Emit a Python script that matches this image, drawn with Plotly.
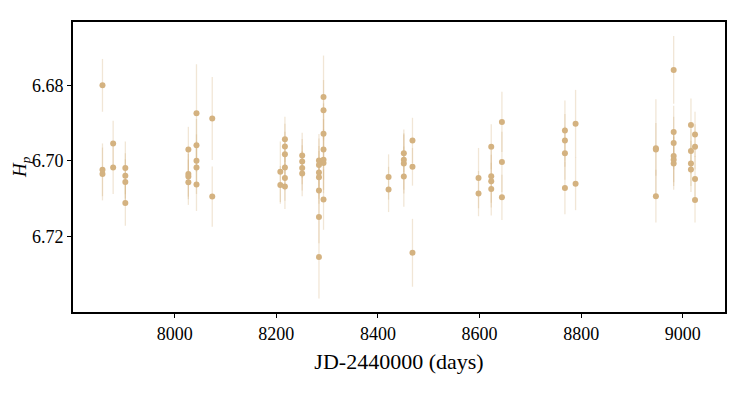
import plotly.graph_objects as go

# Hipparcos-style photometry: epoch (JD-2440000), Hp magnitude, error
days = [
    7858, 7858, 7858,
    7879, 7879,
    7903, 7903, 7903, 7903,
    8027, 8027, 8027, 8027,
    8043, 8043, 8043, 8043, 8043,
    8074, 8074,
    8208, 8208,
    8217, 8217, 8217, 8217, 8217, 8217,
    8251, 8251, 8251, 8251,
    8284, 8284, 8284, 8284, 8284, 8284, 8284,
    8293, 8293, 8293, 8293, 8293, 8293, 8293,
    8421, 8421,
    8451, 8451, 8451, 8451,
    8468, 8468, 8468,
    8598, 8598,
    8623, 8623, 8623, 8623,
    8644, 8644, 8644,
    8768, 8768, 8768, 8768,
    8789, 8789,
    8947, 8947, 8947,
    8982, 8982, 8982, 8982, 8982, 8982,
    9016, 9016, 9016, 9016,
    9024, 9024, 9024, 9024,
]
hp = [
    6.6800, 6.7024, 6.7035,
    6.6954, 6.7018,
    6.7019, 6.7040, 6.7056, 6.7112,
    6.6970, 6.7035, 6.7042, 6.7057,
    6.6874, 6.6959, 6.7000, 6.7018, 6.7063,
    6.6888, 6.7095,
    6.7029, 6.7064,
    6.6943, 6.6962, 6.6983, 6.7018, 6.7046, 6.7068,
    6.6986, 6.7002, 6.7019, 6.7034,
    6.6999, 6.7011, 6.7031, 6.7044, 6.7079, 6.7149, 6.7255,
    6.6831, 6.6866, 6.6928, 6.6970, 6.6997, 6.7006, 6.7103,
    6.7043, 6.7076,
    6.6980, 6.6997, 6.7007, 6.7042,
    6.6946, 6.7016, 6.7244,
    6.7046, 6.7087,
    6.6963, 6.7041, 6.7054, 6.7075,
    6.6897, 6.7003, 6.7097,
    6.6920, 6.6946, 6.6980, 6.7072,
    6.6902, 6.7061,
    6.6967, 6.6970, 6.7094,
    6.6759, 6.6924, 6.6953, 6.6987, 6.6997, 6.7007,
    6.6905, 6.6974, 6.7007, 6.7023,
    6.6930, 6.6963, 6.7048, 6.7104,
]
hp_err = [
    0.007, 0.007, 0.007,
    0.006, 0.007,
    0.007, 0.006, 0.006, 0.006,
    0.006, 0.006, 0.006, 0.006,
    0.013, 0.007, 0.007, 0.007, 0.007,
    0.011, 0.008,
    0.008, 0.005,
    0.006, 0.006, 0.006, 0.006, 0.006, 0.006,
    0.006, 0.006, 0.006, 0.006,
    0.007, 0.007, 0.007, 0.007, 0.007, 0.007, 0.011,
    0.011, 0.008, 0.008, 0.008, 0.008, 0.008, 0.008,
    0.006, 0.006,
    0.005, 0.008, 0.008, 0.008,
    0.006, 0.005, 0.009,
    0.008, 0.006,
    0.006, 0.007, 0.007, 0.007,
    0.008, 0.008, 0.006,
    0.008, 0.007, 0.007, 0.007,
    0.009, 0.007,
    0.013, 0.007, 0.007,
    0.009, 0.007, 0.007, 0.007, 0.007, 0.007,
    0.007, 0.006, 0.006, 0.006,
    0.006, 0.006, 0.006, 0.006,
]

tan = "rgb(212,178,128)"
font = "Liberation Serif"

fig = go.Figure()
fig.add_trace(
    go.Scatter(
        x=days,
        y=hp,
        mode="markers",
        marker=dict(color=tan, size=6),
        error_y=dict(type="data", array=hp_err, visible=True,
                     color="rgba(212,178,128,0.32)", thickness=1.3, width=0),
        showlegend=False,
    )
)

fig.update_xaxes(
    range=[7800, 9083],
    tickvals=[8000, 8200, 8400, 8600, 8800, 9000],
    showgrid=False, zeroline=False, automargin=False,
    showline=True, linecolor="black", linewidth=2, mirror=True,
    ticks="outside", ticklen=4, tickcolor="black",
    title=dict(text="JD-2440000 (days)", standoff=11),
)
fig.update_yaxes(
    range=[6.7401, 6.6632],
    tickvals=[6.68, 6.70, 6.72],
    ticktext=["6.68", "6.70", "6.72"],
    showgrid=False, zeroline=False, automargin=False,
    showline=True, linecolor="black", linewidth=2, mirror=True,
    ticks="outside", ticklen=4, tickcolor="black",
)
# y title as an annotation so it sits left of the tick labels
fig.add_annotation(
    text="<i>H<sub>p</sub></i>", xref="paper", yref="paper",
    x=0, y=0.5, xanchor="center", yanchor="middle",
    xshift=-52, textangle=-90, showarrow=False,
    font=dict(family=font, size=19, color="black"),
)
# page body has an 8px margin, so the figure is offset by 8px
fig.update_layout(
    width=739, height=387,
    margin=dict(l=65, r=22, t=14, b=83),
    plot_bgcolor="white", paper_bgcolor="white",
    font=dict(family=font, size=18, color="black"),
)
fig.write_html("out.html")
